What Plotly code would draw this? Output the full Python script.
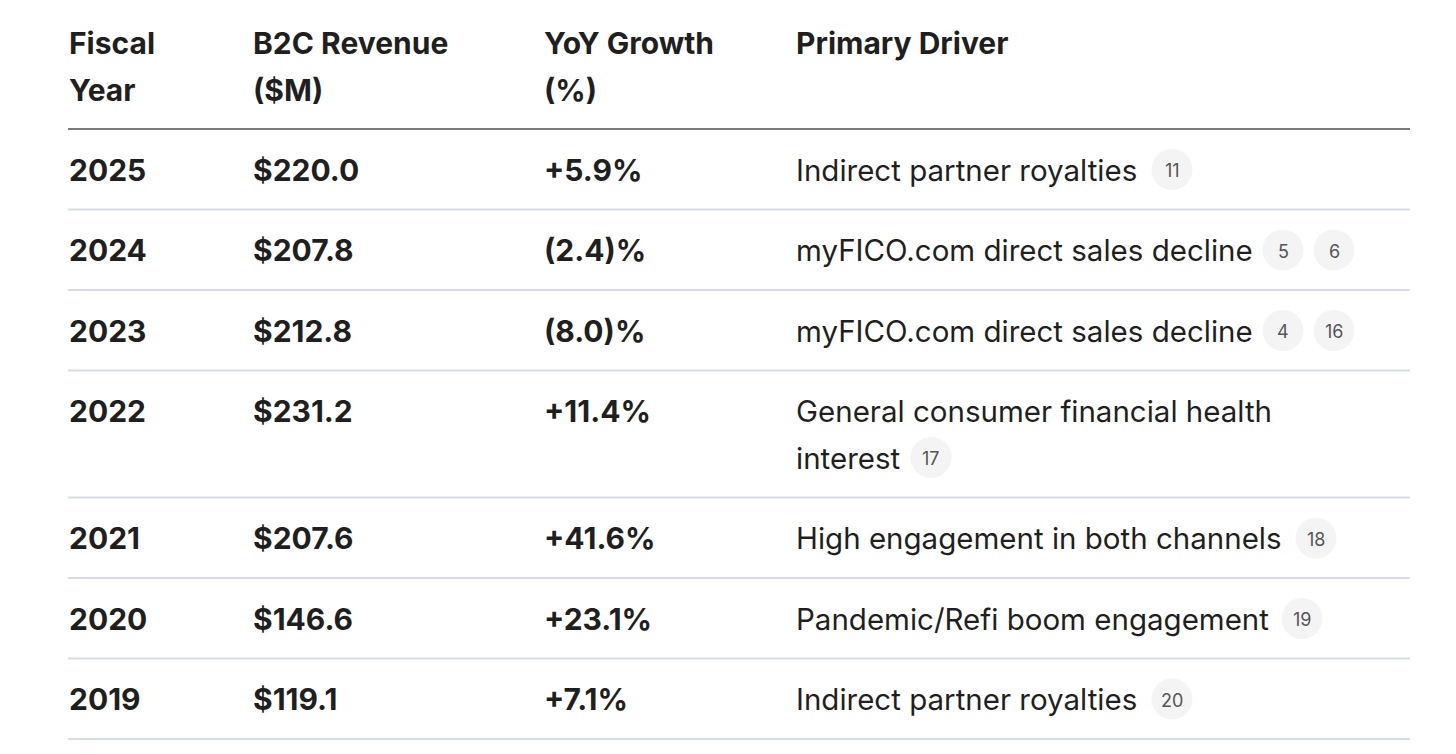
import plotly.graph_objects as go

# Table data
years = ["2025", "2024", "2023", "2022", "2021", "2020", "2019"]
revenue = ["$220.0", "$207.8", "$212.8", "$231.2", "$207.6", "$146.6", "$119.1"]
growth = ["+5.9%", "(2.4)%", "(8.0)%", "+11.4%", "+41.6%", "+23.1%", "+7.1%"]
drivers = [
    "Indirect partner royalties",
    "myFICO.com direct sales decline",
    "myFICO.com direct sales decline",
    "General consumer financial health\ninterest",
    "High engagement in both channels",
    "Pandemic/Refi boom engagement",
    "Indirect partner royalties",
]
citations = [["11"], ["5", "6"], ["4", "16"], ["17"], ["18"], ["19"], ["20"]]
headers = ["Fiscal\nYear", "B2C Revenue\n($M)", "YoY Growth\n(%)", "Primary Driver"]

# layout constants (pixels, in the page; page has an 8px body margin)
OFF = 8
W, H = 1456, 754
col_x = [67, 251, 542, 794]
left, right = 68, 1410
header_top = 43
line_gap = 46.5
header_line = 129
row_h = 80.5
# badge x centres per row (depend on rendered text width)
badge_x = [[1172], [1283, 1334], [1283, 1334], [931], [1316], [1302], [1172]]

FONT = "Inter"
TXT = "#1f1f1f"
SIZE = 30
DRV_SIZE = 29.5

fig = go.Figure()
ann = []
shapes = []

# header
for x, h in zip(col_x, headers):
    for i, part in enumerate(h.split("\n")):
        ann.append(dict(x=x - OFF, y=header_top + i * line_gap - OFF, text="<b>%s</b>" % part,
                        xanchor="left", yanchor="middle", showarrow=False,
                        font=dict(family=FONT, size=SIZE, color=TXT)))
shapes.append(dict(type="line", x0=left - OFF, x1=right - OFF,
                   y0=header_line - OFF, y1=header_line - OFF,
                   line=dict(color="#7a7a7a", width=2)))

# rows
top = header_line
bx, by, bt = [], [], []
for r in range(len(years)):
    lines = drivers[r].split("\n")
    h = row_h + (len(lines) - 1) * line_gap
    yc = top + 40.5
    for x, val in zip(col_x[:3], [years[r], revenue[r], growth[r]]):
        ann.append(dict(x=x - OFF, y=yc - OFF, text="<b>%s</b>" % val, xanchor="left",
                        yanchor="middle", showarrow=False,
                        font=dict(family=FONT, size=SIZE, color=TXT)))
    for i, part in enumerate(lines):
        ann.append(dict(x=col_x[3] - OFF, y=yc + i * line_gap - OFF, text=part, xanchor="left",
                        yanchor="middle", showarrow=False,
                        font=dict(family=FONT, size=DRV_SIZE, color=TXT)))
    for x, c in zip(badge_x[r], citations[r]):
        bx.append(x - OFF)
        by.append(yc + (len(lines) - 1) * line_gap - OFF)
        bt.append(c)
    top += h
    shapes.append(dict(type="line", x0=left - OFF, x1=right - OFF,
                       y0=top - OFF, y1=top - OFF,
                       line=dict(color="#d5dde8", width=2)))

# citation badges
fig.add_trace(go.Scatter(
    x=bx, y=by, mode="markers",
    marker=dict(size=41, color="#f4f4f4", line=dict(width=0)),
    hoverinfo="skip", showlegend=False,
))
for x, y, t in zip(bx, by, bt):
    ann.append(dict(x=x, y=y + 1, text=t, xanchor="center", yanchor="middle",
                    showarrow=False, font=dict(family=FONT, size=18, color="#555555")))

fig.update_layout(
    width=W - 2 * OFF, height=H - 2 * OFF,
    margin=dict(l=0, r=0, t=0, b=0),
    paper_bgcolor="white", plot_bgcolor="white",
    xaxis=dict(range=[0, W - 2 * OFF], visible=False, fixedrange=True),
    yaxis=dict(range=[H - 2 * OFF, 0], visible=False, fixedrange=True),
    annotations=ann, shapes=shapes,
    showlegend=False,
)

fig.write_html("out.html", config={"displayModeBar": False})
